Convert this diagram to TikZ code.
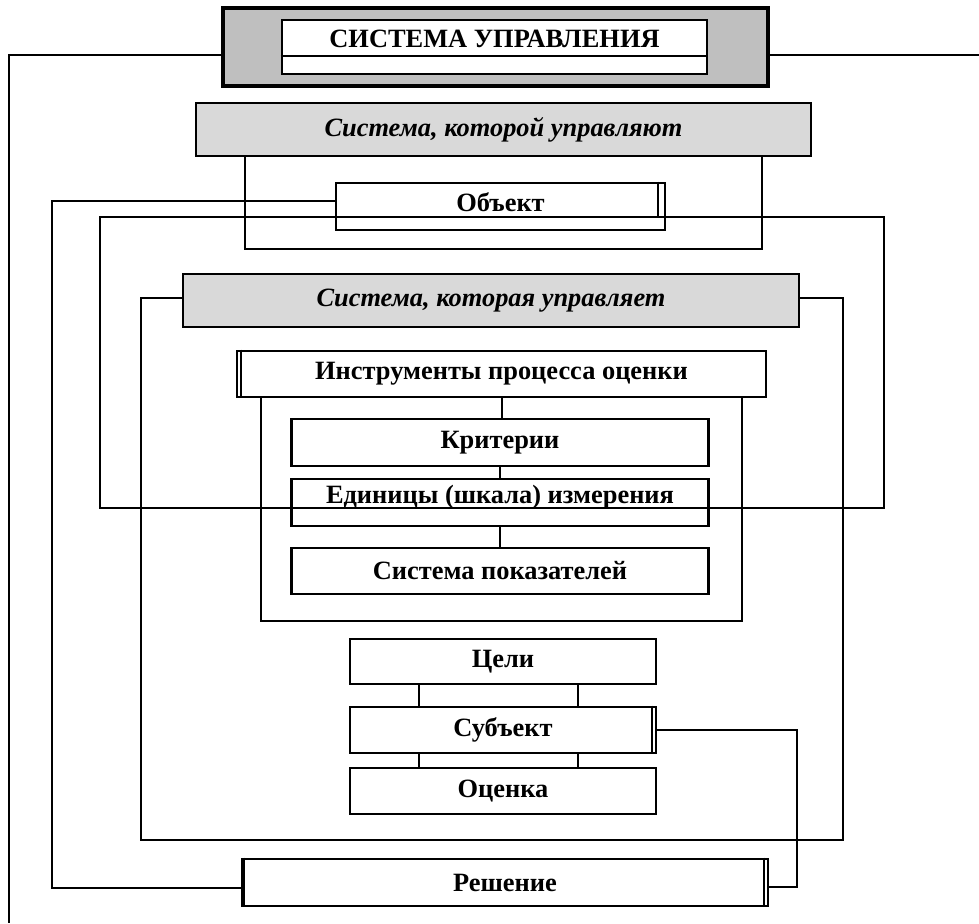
\documentclass[tikz,border=0pt]{standalone}
\usepackage{fontspec}
\setmainfont{Liberation Serif}
\usepackage{tikz}
\usetikzlibrary{shapes,positioning,calc}
\tikzstyle{box} = [draw,line width=1.35pt,fill=white,inner sep=0pt,font=\fontsize{13.2}{15}\selectfont\bfseries]
\tikzstyle{graybox} = [box,fill=gray!30,font=\fontsize{13.2}{15}\selectfont\bfseries\itshape]
\tikzstyle{boxtext} = [inner sep=0pt,font=\fontsize{13.2}{15}\selectfont\bfseries]
\tikzstyle{wire} = [line width=1pt]

\begin{document}
\begin{tikzpicture}[x=0.5pt,y=-0.5pt]
							\useasboundingbox (0,0) rectangle (979,923);
							\node[box,fill=gray!50,line width=1.6pt,minimum width=272.5pt,minimum height=39pt] (ctrl) at (495.5,47) {};
							\node[box,minimum width=212.5pt,minimum height=27pt] (ctrltitle) at (494.5,47) {};
							\draw[line width=1.35pt] (ctrltitle.west |- 0,56) -- (ctrltitle.east |- 0,56);
							\node[boxtext] (ctrltext) at (494.5,39) {СИСТЕМА УПРАВЛЕНИЯ};
							\node[graybox,minimum width=307.5pt,minimum height=26.5pt] (managed) at (503.5,129.5) {Система, которой управляют};
							\node[box,minimum width=164.5pt,minimum height=23.5pt] (object) at (500.5,206.5) {};
							\node[boxtext] (objecttext) at (500.5,202) {Объект};
							\node[graybox,minimum width=308pt,minimum height=26.5pt] (manager) at (491,300.5) {Система, которая управляет};
							\node[box,minimum width=264.5pt,minimum height=23pt] (tools) at (501.5,374) {Инструменты процесса оценки};
							\node[box,minimum width=208.5pt,minimum height=23.5pt] (crit) at (500,442.5) {Критерии};
							\node[box,minimum width=208.5pt,minimum height=23.5pt] (units) at (500,502.5) {};
							\node[boxtext] (unitstext) at (500,497) {Единицы (шкала) измерения};
							\node[box,minimum width=208.5pt,minimum height=23pt] (indic) at (500,571) {Система показателей};
							\node[box,minimum width=153pt,minimum height=22.5pt] (goals) at (503,661.5) {Цели};
							\node[box,minimum width=153pt,minimum height=23pt] (subj) at (503,730) {Субъект};
							\node[box,minimum width=153pt,minimum height=23pt] (eval) at (503,791) {Оценка};
							\node[box,minimum width=263pt,minimum height=23.5pt] (dec) at (505,882.5) {Решение};
							\coordinate (leftend) at (9,923);
							\coordinate (rightend) at (979,55);
							\coordinate (subjturn) at (797,730);
							\draw[wire] ([xshift=-4pt]object.north east) -- ([xshift=-4pt]object.north east |- 0,217);
							\draw[wire] ([xshift=-2.5pt]subj.north east) -- ([xshift=-2.5pt]subj.south east);
							\draw[wire] ([xshift=2.5pt]tools.north west) -- ([xshift=2.5pt]tools.south west);
							\draw[wire] ([xshift=1.5pt]dec.north west) -- ([xshift=1.5pt]dec.south west);
							\draw[wire] ([xshift=-2.5pt]dec.north east) -- ([xshift=-2.5pt]dec.south east);
							\draw[wire] (ctrl.west |- rightend) -| (leftend);
							\draw[wire] (ctrl.east |- rightend) -- (rightend);
							\draw[wire] ([xshift=25pt]managed.south west) -- ++(0,92) -| ([xshift=-25pt]managed.south east);
							\draw[wire] (100,217) rectangle (884,508);
							\draw[wire] ([yshift=3pt]object.west) -- ++(-283,0) |- ([yshift=-2.5pt]dec.west);
							\draw[wire] ([yshift=1.5pt]manager.west) -- ++(-41,0) |- (843,840) |- ([yshift=1.5pt]manager.east);
							\draw[wire] ([xshift=12.5pt]tools.south west) -- ++(0,223) -| ([xshift=-12.5pt]tools.south east);
							\draw[wire] (tools.south) -- (tools.south |- crit.north);
							\draw[wire] (crit.south) -- (crit.south |- units.north);
							\draw[wire] (units.south) -- (units.south |- indic.north);
							\foreach \dx in {-42pt,37.5pt}
								{\draw[wire] ([xshift=\dx]goals.south) -- ([xshift=\dx]subj.north);
								 \draw[wire] ([xshift=\dx]subj.south) -- ([xshift=\dx]eval.north);}
							\draw[wire] (subj.east) -- (subjturn) |- ([yshift=-2pt]dec.east);
						\end{tikzpicture}
\end{document}
